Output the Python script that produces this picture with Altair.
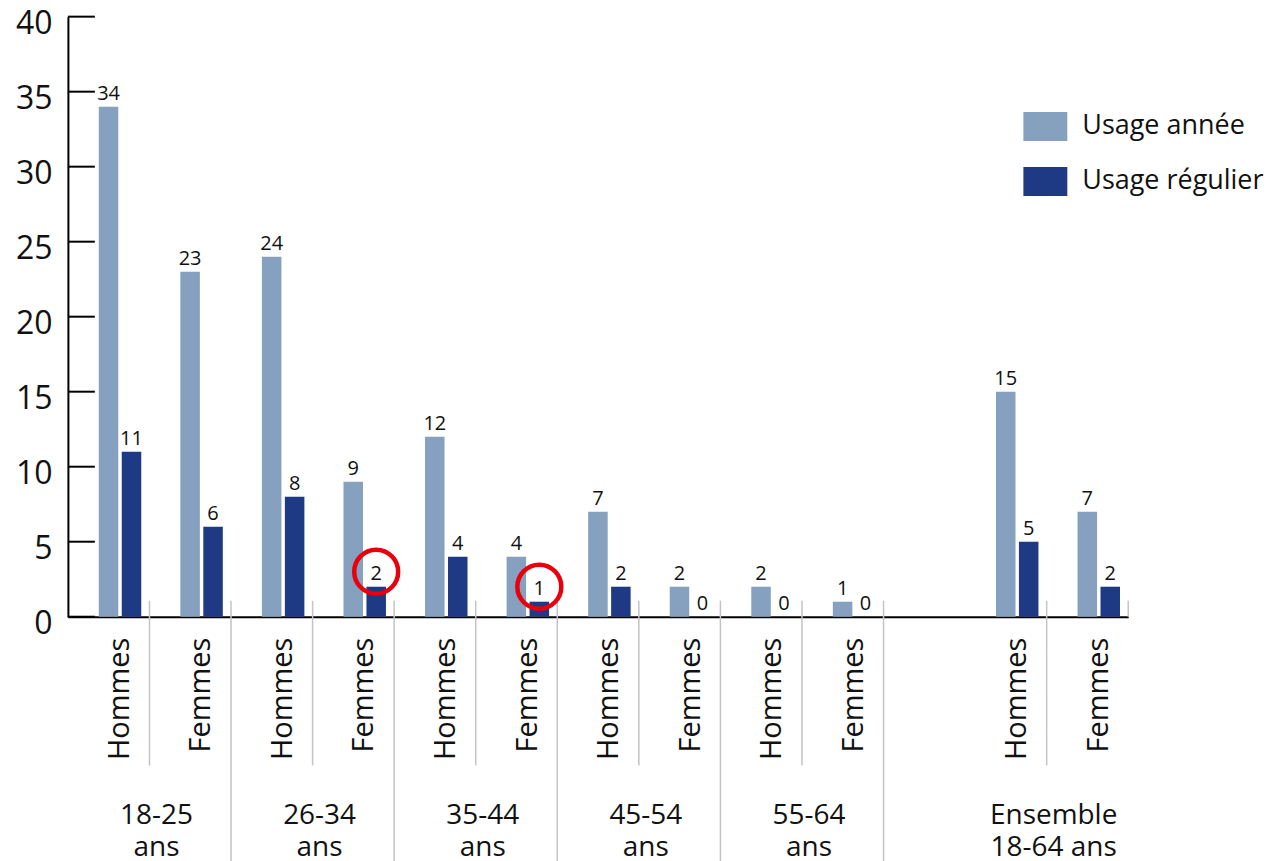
import altair as alt
import pandas as pd

# ---- data ----
groups = ["18-25 ans", "26-34 ans", "35-44 ans", "45-54 ans", "55-64 ans", "Ensemble 18-64 ans"]
group_line1 = ["18-25", "26-34", "35-44", "45-54", "55-64", "Ensemble"]
group_line2 = ["ans", "ans", "ans", "ans", "ans", "18-64 ans"]
sexes = ["Hommes", "Femmes"]
series = ["Usage année", "Usage régulier"]
usage_annee = [34, 23, 24, 9, 12, 4, 7, 2, 2, 1, 15, 7]
usage_regulier = [11, 6, 8, 2, 4, 1, 2, 0, 0, 0, 5, 2]
highlighted = [("26-34 ans", "Femmes"), ("35-44 ans", "Femmes")]
y_ticks = [0, 5, 10, 15, 20, 25, 30, 35, 40]
colors = ["#86a0bf", "#1e3a84"]

FONT = "Open Sans"
GAP = " "

# ---- build tables ----
slot_domain = []
slot_rows = []
bar_rows = []
for gi, g in enumerate(groups):
    if g.startswith("Ensemble"):
        slot_domain.append(GAP)
    for si, s in enumerate(sexes):
        key = f"{g}|{s}"
        slot_domain.append(key)
        idx = gi * len(sexes) + si
        slot_rows.append({"slot": key, "group": g, "sex": s,
                          "l1": group_line1[gi], "l2": group_line2[gi], "first": si == 0})
        for ser, vals in zip(series, [usage_annee, usage_regulier]):
            bar_rows.append({"slot": key, "series": ser, "value": vals[idx],
                             "hl": (ser == series[1]) and ((g, s) in highlighted)})

# separator kinds at the right edge of each slot
for r in slot_rows:
    pos = slot_domain.index(r["slot"])
    if pos == len(slot_domain) - 1:
        r["sep"] = "tick"
    else:
        nxt = slot_domain[pos + 1]
        r["sep"] = "short" if nxt.split("|")[0] == r["group"] else "long"

bars = pd.DataFrame(bar_rows)
slots = pd.DataFrame(slot_rows)
ticks = pd.DataFrame({"value": y_ticks})

x_scale = alt.Scale(domain=slot_domain, paddingInner=0, paddingOuter=0)
x_axis = alt.Axis(labels=False, ticks=False, title=None, domainColor="black",
                  domainWidth=2, grid=False)
xo = alt.XOffset("series:N", scale=alt.Scale(domain=series, paddingInner=0.15,
                                              paddingOuter=0.851, align=0.79))
y_enc = alt.Y("value:Q", scale=alt.Scale(domain=[0, 40], nice=False),
              axis=alt.Axis(values=y_ticks, ticks=False, tickSize=0, labelPadding=16,
                            labelFontSize=32, labelFont=FONT, labelColor="#111",
                            labelOffset=7, domainColor="black", domainWidth=2,
                            grid=False, title=None))

def X(**kw):
    return alt.X("slot:N", scale=x_scale, axis=x_axis, **kw)

bar_layer = alt.Chart(bars).mark_bar().encode(
    x=X(), xOffset=xo, y=y_enc,
    color=alt.Color("series:N", scale=alt.Scale(domain=series, range=colors),
                    legend=alt.Legend(orient="none", legendX=957, legendY=88, title=None,
                                      symbolType="M-1,-0.66H1V0.66H-1Z", symbolSize=1936,
                                      symbolStrokeWidth=0, symbolOpacity=1,
                                      labelFontSize=27, labelFont=FONT, labelColor="#111",
                                      labelOffset=15, rowPadding=18, padding=0,
                                      labelLimit=400)),
)

value_layer = alt.Chart(bars).mark_text(font=FONT, fontSize=20, baseline="alphabetic",
                                        dy=-7, color="#111").encode(
    x=X(), xOffset=xo, y=alt.Y("value:Q"), text="value:Q")

circle_layer = alt.Chart(bars).transform_filter("datum.hl").mark_point(
    shape="circle", filled=False, color="#e8000b", strokeWidth=4.5, size=1936, opacity=1
).encode(x=X(), xOffset=xo, y=alt.Y("value:Q"), yOffset=alt.value(-15))

tick_layer = alt.Chart(ticks).mark_rule(color="black", strokeWidth=2).encode(
    y=alt.Y("value:Q"), x=alt.value(0), x2=alt.value(27))

sep_short = alt.Chart(slots).transform_filter("datum.sep == 'short'").mark_rule(
    color="#c4c4c4", strokeWidth=1.5).encode(
    x=X(bandPosition=1), y=alt.value(585), y2=alt.value(750))
sep_long = alt.Chart(slots).transform_filter("datum.sep == 'long'").mark_rule(
    color="#c4c4c4", strokeWidth=1.5).encode(
    x=X(bandPosition=1), y=alt.value(585), y2=alt.value(846))
sep_tick = alt.Chart(slots).transform_filter("datum.sep == 'tick'").mark_rule(
    color="#c4c4c4", strokeWidth=1.5).encode(
    x=X(bandPosition=1), y=alt.value(585), y2=alt.value(601))

sex_layer = alt.Chart(slots).mark_text(angle=270, align="right", baseline="middle",
                                       font=FONT, fontSize=29, color="#111").encode(
    x=X(bandPosition=0.636), y=alt.value(622), text="sex:N")

group_l1 = alt.Chart(slots).transform_filter("datum.first").mark_text(
    align="center", baseline="alphabetic", font=FONT, fontSize=28, color="#111",
    dx=7).encode(x=X(bandPosition=1), y=alt.value(809), text="l1:N")
group_l2 = alt.Chart(slots).transform_filter("datum.first").mark_text(
    align="center", baseline="alphabetic", font=FONT, fontSize=28, color="#111",
    dx=7).encode(x=X(bandPosition=1), y=alt.value(841), text="l2:N")

chart = alt.layer(
    sep_short, sep_long, sep_tick, bar_layer, value_layer, circle_layer,
    tick_layer, sex_layer, group_l1, group_l2
).properties(
    width=1062, height=601,
    padding={"left": 60, "top": 8, "right": 142, "bottom": 246},
    autosize=alt.AutoSizeParams(type="none"),
).configure_view(stroke=None)

chart.save("out.html", embed_options={"renderer": "svg", "actions": False})
